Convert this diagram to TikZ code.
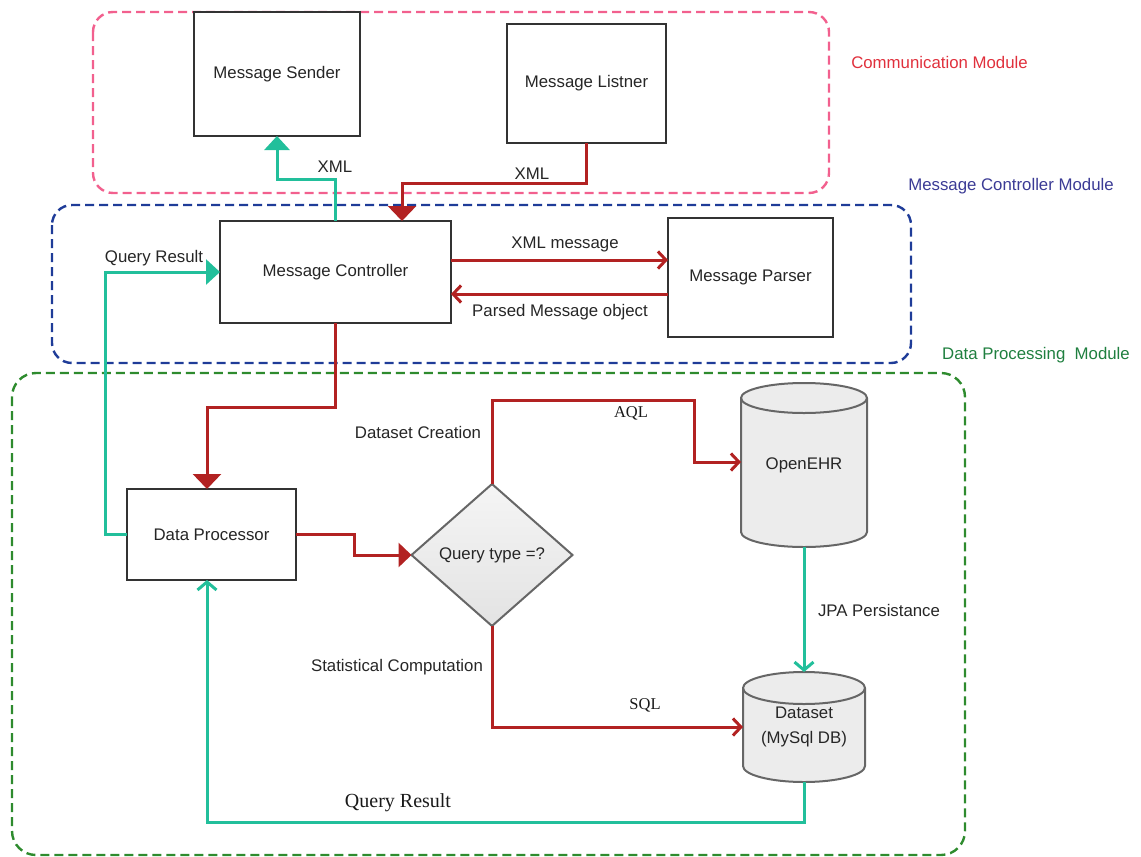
\documentclass[tikz,border=0pt]{standalone}
\usepackage{fontspec}
\setmainfont{Liberation Sans}
\newfontfamily\serifface{Liberation Serif}
\usetikzlibrary{arrows.meta,shapes.geometric,backgrounds}

\definecolor{commframe}{HTML}{F2608E}
\definecolor{ctrlframe}{HTML}{1F3C98}
\definecolor{dataframe}{HTML}{2E8B2E}
\definecolor{commtxt}{HTML}{E0303C}
\definecolor{ctrltxt}{HTML}{3B3B95}
\definecolor{datatxt}{HTML}{1F7F3F}
\definecolor{flowred}{HTML}{B22222}
\definecolor{flowteal}{HTML}{22BF9B}
\definecolor{dbgray}{HTML}{ECECEC}
\definecolor{edgegray}{HTML}{666666}

\newcommand\txtsz{\fontsize{16.8pt}{20pt}\selectfont}

\tikzset{
  frame/.style={line width=2.4pt, dash pattern=on 9pt off 5pt, rounded corners=20pt},
  box/.style={draw=black!80, line width=1.4pt, fill=white, inner sep=0pt, outer sep=0pt,
    font=\txtsz, text=black!85},
  decision/.style={diamond, draw=edgegray, line width=2pt, top color=gray!8, bottom color=gray!22,
    minimum width=161pt, minimum height=142pt, aspect=1.13, inner sep=0pt, outer sep=0pt,
    font=\txtsz, text=black!85},
  dbnode/.style={inner sep=0pt, outer sep=0pt, font=\fontsize{16.8pt}{25pt}\selectfont, text=black!85},
  dbbody/.style={draw=edgegray, line width=2pt, fill=dbgray},
  lbl/.style={font=\txtsz, text=black!85, inner sep=0pt},
  slbl/.style={font=\serifface\fontsize{16.5pt}{20pt}\selectfont, text=black!90, inner sep=0pt},
  modlbl/.style={font=\txtsz, inner sep=0pt},
  redfill/.style={draw=flowred, line width=3pt, -{Triangle[length=15pt,width=28pt]}},
  redfillsm/.style={draw=flowred, line width=3pt, -{Triangle[length=13pt,width=24pt]}},
  redbarb/.style={draw=flowred, line width=3pt, -{Straight Barb[length=8pt,width=17pt]}},
  tealfill/.style={draw=flowteal, line width=3pt, -{Triangle[length=14pt,width=25pt]}},
  tealbarb/.style={draw=flowteal, line width=3pt, -{Straight Barb[length=8pt,width=19pt]}},
}

\begin{document}
\begin{tikzpicture}[x=1pt,y=-1pt]
\useasboundingbox (0,0) rectangle (1141,857);

% module frames
\draw[frame, draw=commframe] (93,12) rectangle (829,193);
\draw[frame, draw=ctrlframe] (52,205) rectangle (911,363);
\draw[frame, draw=dataframe, rounded corners=24pt] (12,373) rectangle (965,855);

\node[modlbl, text=commtxt] (commlbl) at (939.5,62) {Communication Module};
\node[modlbl, text=ctrltxt] (ctrllbl) at (1011,186) {Message Controller Module};
\node[modlbl, text=datatxt] (datalbl) at (1036,355) {Data Processing\ \ Module};

% components
\node[box, minimum width=166pt, minimum height=124pt] (sender) at (277,74) {Message Sender};
\node[box, minimum width=159pt, minimum height=119pt] (listener) at (586.5,83.5) {Message Listner};
\node[box, minimum width=231pt, minimum height=102pt] (ctrl) at (335.5,272) {Message Controller};
\node[box, minimum width=165pt, minimum height=119pt] (parser) at (750.5,277.5) {Message Parser};
\node[box, minimum width=169pt, minimum height=91pt] (dp) at (211.5,534.5) {Data Processor};
\node[decision] (dia) at (492,555) {Query type =?};
\node[dbnode, minimum width=126pt, minimum height=164pt] (ehr) at (804,465) {OpenEHR};
\node[dbnode, minimum width=122pt, minimum height=110pt, align=center] (ds) at (804,727) {Dataset\\(MySql DB)};

% database cylinders behind their labels
\begin{scope}[on background layer]
  \draw[dbbody] ([yshift=-15pt]ehr.north west) -- ([yshift=15pt]ehr.south west)
    arc[start angle=180, end angle=360, x radius=63pt, y radius=15pt]
    -- ([yshift=-15pt]ehr.north east)
    arc[start angle=0, end angle=180, x radius=63pt, y radius=15pt] -- cycle;
  \draw[dbbody, fill=none] ([yshift=-15pt]ehr.north west)
    arc[start angle=180, end angle=360, x radius=63pt, y radius=15pt];
  \draw[dbbody] ([yshift=-16pt]ds.north west) -- ([yshift=16pt]ds.south west)
    arc[start angle=180, end angle=360, x radius=61pt, y radius=16pt]
    -- ([yshift=-16pt]ds.north east)
    arc[start angle=0, end angle=180, x radius=61pt, y radius=16pt] -- cycle;
  \draw[dbbody, fill=none] ([yshift=-16pt]ds.north west)
    arc[start angle=180, end angle=360, x radius=61pt, y radius=16pt];
\end{scope}

% connector turning points
\coordinate (lsturn) at (402,183);
\coordinate (m1) at ([yshift=12pt]ctrl.east);
\coordinate (m2) at ([yshift=-22pt]ctrl.east);
\coordinate (dpin) at ([xshift=-4.5pt]dp.north);
\coordinate (dpout) at ([xshift=-4.5pt]dp.south);
\coordinate (aqlturn) at (694,400);
\coordinate (ehrin) at ([yshift=3pt]ehr.west);

% connectors
\draw[tealfill] (ctrl.north) -- ++(0,-42) -| (sender.south);
\draw[redfill] (listener.south) |- (lsturn) -- (lsturn |- ctrl.north);
\draw[redbarb] (m1) -- (m1 -| parser.west);
\draw[redbarb] (m2 -| parser.west) -- (m2);
\draw[tealfill] (dp.west) -- ++(-22,0) |- (ctrl.west);
\draw[redfill] (ctrl.south) -- ++(0,84) -| (dpin);
\draw[redfillsm] (dp.east) -- ++(58,0) |- (dia.west);
\draw[redbarb] (dia.north) |- (aqlturn) |- (ehrin);
\draw[redbarb] (dia.south) |- (ds.west);
\draw[tealbarb] (ehr.south) -- (ds.north);
\draw[tealbarb] (ds.south) -- ++(0,40) -| (dpout);

% connector labels
\node[lbl] (xmlout) at (335,167) {XML};
\node[lbl] (xmlin) at (532,174) {XML};
\node[lbl] (xmlmsg) at (565,244) {XML message};
\node[lbl] (parsed) at (560,312) {Parsed Message object};
\node[lbl] (qrtop) at (154,258) {Query Result};
\node[lbl] (dscreate) at (418,432) {Dataset Creation};
\node[slbl] (aqltxt) at (631,413) {AQL};
\node[lbl] (statcomp) at (397,667) {Statistical Computation};
\node[slbl] (sqltxt) at (645,705) {SQL};
\node[lbl] (jpa) at (879,610) {JPA Persistance};
\node[slbl, font=\serifface\fontsize{20pt}{24pt}\selectfont] (qrbottom) at (398,803) {Query Result};
\end{tikzpicture}
\end{document}
